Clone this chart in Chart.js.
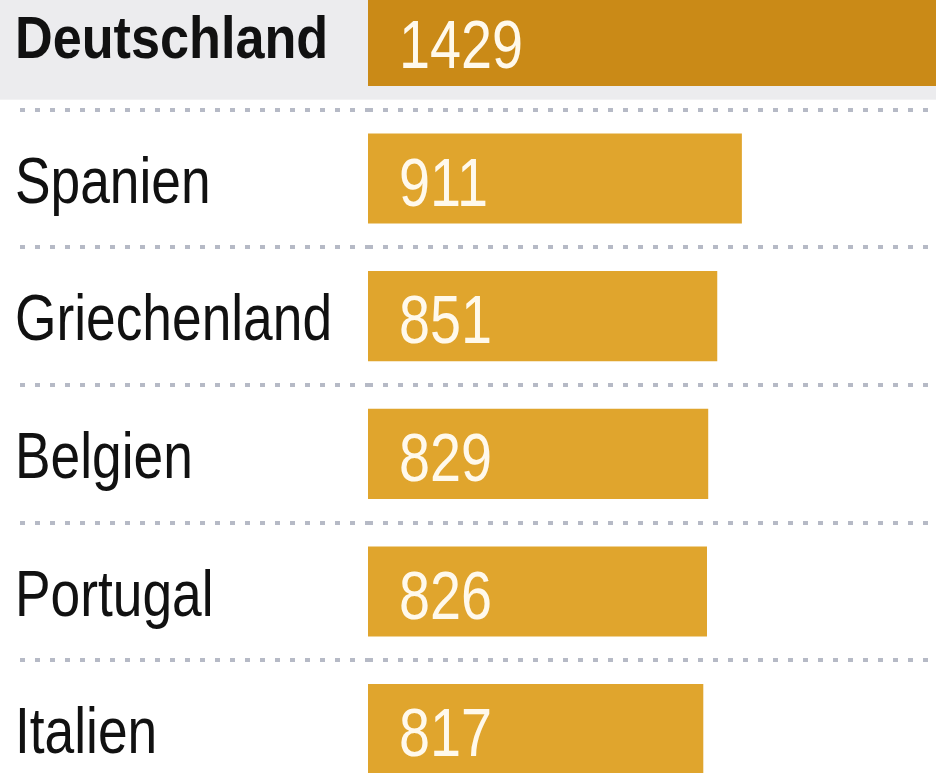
<!DOCTYPE html>
<html>
<head>
<meta charset="utf-8">
<script src="https://cdn.jsdelivr.net/npm/chart.js@4.4.1/dist/chart.umd.min.js"></script>
<style>
    html, body { margin: 0; padding: 0; background: #fff; overflow: hidden; width: 936px; height: 773px; }
    #wrap { position: relative; width: 936px; height: 773px; overflow: hidden; }
    #chart { position: absolute; left: 0; top: -28px; }
</style>
</head>
<body>
<div id="wrap">
    <canvas id="chart" width="936" height="826"></canvas>
</div>
<script>
// --- DATA ---
const countries = ['Deutschland', 'Spanien', 'Griechenland', 'Belgien', 'Portugal', 'Italien'];
const values = [1429, 911, 851, 829, 826, 817];
const highlightIndex = 0;

// --- STYLE ---
const FONT = "'Liberation Sans', Arial, sans-serif";
const NARROW = 0.82; // police condensée simulée
const barColor = '#E0A52D';
const barColorHighlight = '#CA8A17';
const bandColor = '#ECECEE';
const dotColor = '#B6BAC6';

// Bande grise derrière la ligne mise en avant
const highlightBand = {
    id: 'highlightBand',
    beforeDraw(chart) {
        const { ctx, scales: { y }, width } = chart;
        const center = y.getPixelForValue(highlightIndex);
        const pitch = y.getPixelForValue(1) - y.getPixelForValue(0);
        ctx.save();
        ctx.fillStyle = bandColor;
        ctx.fillRect(0, center - pitch / 2, width, pitch - 10);
        ctx.restore();
    }
};

// texte condensé : on écrase horizontalement
function narrowText(ctx, text, x, y, squeeze = NARROW) {
    ctx.save();
    ctx.translate(x, y);
    ctx.scale(squeeze, 1);
    ctx.fillText(text, 0, 0);
    ctx.restore();
}

// Noms des pays (positions prises sur l'axe y)
const countryLabels = {
    id: 'countryLabels',
    afterDraw(chart) {
        const { ctx, scales: { y } } = chart;
        ctx.save();
        ctx.fillStyle = '#111';
        ctx.textAlign = 'left';
        ctx.textBaseline = 'alphabetic';
        countries.forEach((name, i) => {
            const cy = y.getPixelForTick(i);
            if (i === highlightIndex) {
                ctx.font = `bold 60px ${FONT}`;
                narrowText(ctx, name, y.left + 15, cy + 17, 0.87);
            } else {
                ctx.font = `65px ${FONT}`;
                narrowText(ctx, name, y.left + 15, cy + 24);
            }
        });
        ctx.restore();
    }
};

// Valeurs écrites dans les barres
const valueLabels = {
    id: 'valueLabels',
    afterDatasetsDraw(chart) {
        const { ctx } = chart;
        const meta = chart.getDatasetMeta(0);
        ctx.save();
        ctx.font = `68px ${FONT}`;
        ctx.fillStyle = '#FFF9EC';
        ctx.textAlign = 'left';
        ctx.textBaseline = 'alphabetic';
        meta.data.forEach((bar, i) => {
            narrowText(ctx, String(values[i]), bar.base + 31, bar.y + 27);
        });
        ctx.restore();
    }
};

const ctx = document.getElementById('chart').getContext('2d');
new Chart(ctx, {
    type: 'bar',
    data: {
        labels: countries,
        datasets: [{
            data: values,
            backgroundColor: values.map((v, i) => i === highlightIndex ? barColorHighlight : barColor),
            borderWidth: 0,
            categoryPercentage: 1,
            barPercentage: 0.655
        }]
    },
    options: {
        indexAxis: 'y',
        responsive: false,
        animation: false,
        devicePixelRatio: 1,
        layout: { padding: 0 },
        plugins: {
            legend: { display: false },
            tooltip: { enabled: false }
        },
        scales: {
            x: {
                display: false,
                min: 0,
                max: 1384
            },
            y: {
                border: { display: false, dash: [5, 10] },
                grid: {
                    offset: true,
                    color: dotColor,
                    lineWidth: 4,
                    tickColor: dotColor,
                    tickWidth: 4,
                    tickBorderDash: [5, 10],
                    tickLength: 348
                },
                ticks: { display: false },
                afterFit(scale) {
                    scale.width = 368;
                    scale.paddingTop = 0;
                    scale.paddingBottom = 0;
                }
            }
        }
    },
    plugins: [highlightBand, valueLabels, countryLabels]
});
</script>
</body>
</html>
